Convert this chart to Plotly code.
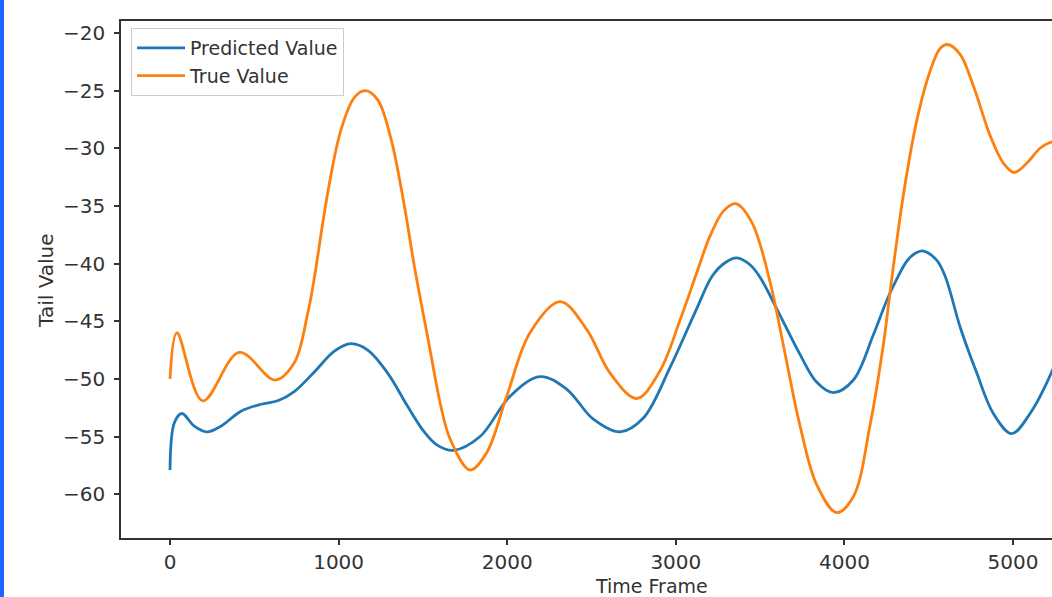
import plotly.graph_objects as go

# ---- data ----
true_x = [0, 41, 194, 411, 623, 737, 817, 852, 935, 1014, 1093, 1158, 1232, 1311, 1390, 1449,
          1535, 1607, 1661, 1779, 1878, 1997, 2135, 2313, 2471, 2610, 2768, 2906, 3025, 3124,
          3203, 3282, 3355, 3450, 3559, 3638, 3737, 3836, 3954, 4053, 4152, 4231, 4280, 4350,
          4429, 4508, 4567, 4611, 4686, 4765, 4864, 4943, 5006, 5081, 5160, 5219, 5260]
true_y = [-50.0, -46.0, -51.9, -47.7, -50.1, -48.6, -44.3, -41.6, -33.9, -28.4, -25.6, -25.0,
          -25.8, -29.2, -35.0, -40.2, -46.9, -52.4, -55.2, -57.9, -56.4, -51.5, -46.0, -43.3,
          -45.7, -49.5, -51.7, -49.3, -44.9, -40.8, -37.6, -35.45, -34.8, -36.4, -41.6, -47.1,
          -54.1, -59.2, -61.6, -60.2, -54.0, -47.0, -41.4, -34.0, -27.6, -23.3, -21.35, -21.0,
          -21.85, -24.6, -28.9, -31.3, -32.1, -31.3, -30.0, -29.5, -29.4]

pred_x = [0, 26, 71, 144, 219, 302, 421, 540, 639, 737, 856, 975, 1073, 1173, 1291, 1410,
          1508, 1580, 1680, 1839, 2017, 2195, 2353, 2511, 2669, 2807, 2966, 3124, 3215, 3290,
          3361, 3440, 3500, 3598, 3737, 3836, 3934, 4053, 4171, 4251, 4310, 4369, 4420, 4464,
          4547, 4600, 4686, 4785, 4883, 4992, 5101, 5231, 5260]
pred_y = [-57.9, -53.8, -53.0, -54.1, -54.6, -54.1, -52.8, -52.2, -51.9, -51.1, -49.4, -47.6,
          -46.95, -47.5, -49.5, -52.4, -54.6, -55.7, -56.2, -55.0, -51.5, -49.8, -50.9, -53.5,
          -54.6, -53.4, -49.0, -43.9, -41.1, -39.95, -39.5, -40.1, -41.2, -43.9, -47.9, -50.3,
          -51.2, -50.1, -46.2, -43.2, -41.35, -39.8, -39.1, -38.9, -39.7, -41.2, -45.5, -49.5,
          -53.0, -54.75, -53.0, -49.35, -48.2]

series_names = ["Predicted Value", "True Value"]
x_ticks = [0, 1000, 2000, 3000, 4000, 5000]
y_ticks = [-60, -55, -50, -45, -40, -35, -30, -25, -20]
x_title = "Time Frame"
y_title = "Tail Value"

BLUE = "#1f77b4"
ORANGE = "#ff7f0e"
FONT = "DejaVu Sans"
TXT = "#333333"
FS = 20

fig = go.Figure()
fig.add_trace(go.Scatter(x=pred_x, y=pred_y, mode="lines", name=series_names[0],
                         line=dict(color=BLUE, width=2.8, shape="spline", smoothing=1.0),
                         legendgroup="a"))
fig.add_trace(go.Scatter(x=true_x, y=true_y, mode="lines", name=series_names[1],
                         line=dict(color=ORANGE, width=2.8, shape="spline", smoothing=1.0),
                         legendgroup="b"))

L, T, B = 121, 21, 59
W, H = 1052, 597
plot_w = W - L
plot_h = H - T - B

fig.update_layout(
    width=W, height=H,
    margin=dict(l=L, r=0, t=T, b=B, pad=0),
    paper_bgcolor="white", plot_bgcolor="white",
    font=dict(family=FONT, size=FS, color=TXT),
    showlegend=True,
    legend=dict(x=10 / plot_w, y=(H - B - 28) / plot_h, xanchor="left", yanchor="top",
                bgcolor="rgba(255,255,255,0.8)", bordercolor="#cccccc", borderwidth=1,
                font=dict(family=FONT, size=FS - 1, color=TXT),
                traceorder="grouped", tracegroupgap=0, itemwidth=48),
    xaxis=dict(range=[-290.6, 5231], tickvals=x_ticks, ticks="outside", ticklen=5,
               tickwidth=1.5, tickcolor="#333", showgrid=False, zeroline=False,
               showline=True, linecolor="#333", linewidth=1.5, mirror=True,
               tickfont=dict(family=FONT, size=FS, color=TXT), ticklabelstandoff=0),
    yaxis=dict(range=[-63.8, -18.96], tickvals=y_ticks, ticks="outside", ticklen=5,
               tickwidth=1.5, tickcolor="#333", showgrid=False, zeroline=False,
               showline=True, linecolor="#333", linewidth=1.5, mirror=False,
               tickfont=dict(family=FONT, size=FS, color=TXT), ticklabelstandoff=5),
    annotations=[
        dict(text=x_title, xref="paper", yref="paper", x=(651 - L) / plot_w,
             y=-(586 - (H - B)) / plot_h, xanchor="center", yanchor="middle",
             showarrow=False, font=dict(family=FONT, size=FS - 1, color=TXT)),
        dict(text=y_title, xref="paper", yref="paper", x=(46 - L) / plot_w,
             y=(H - B - 281) / plot_h, xanchor="center", yanchor="middle",
             textangle=-90, showarrow=False, font=dict(family=FONT, size=FS, color=TXT)),
    ],
    shapes=[dict(type="rect", xref="paper", yref="paper", x0=-L / plot_w, x1=(4 - L) / plot_w,
                 y0=-B / plot_h - 0.01, y1=(H - B) / plot_h + 0.01,
                 fillcolor="#1a66ff", line=dict(width=0), layer="above")],
)

fig.write_html("out.html", config={"displayModeBar": False},
               post_script="document.body.style.margin='0';document.body.style.overflow='hidden';")
